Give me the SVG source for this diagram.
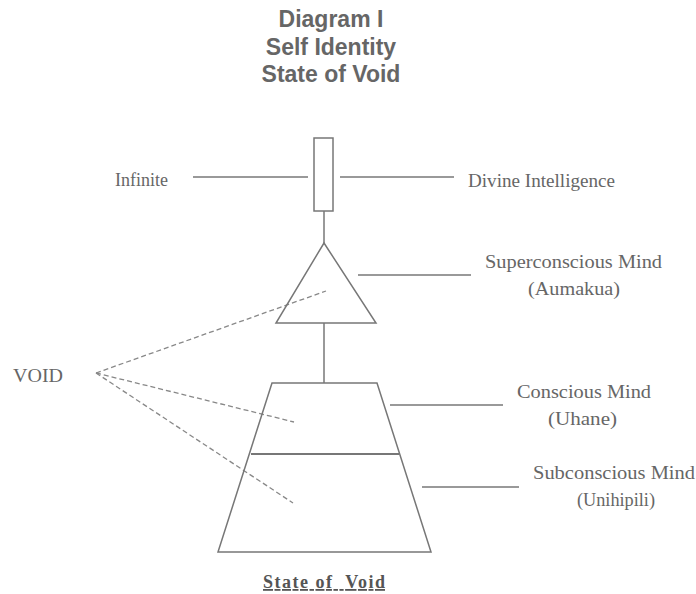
<svg xmlns="http://www.w3.org/2000/svg" width="696" height="594" viewBox="0 0 696 594">
<style>
.title{font-family:"Liberation Sans",Arial,sans-serif;font-weight:bold;font-size:23px;fill:#666;text-anchor:middle}
.lbl{font-family:"Liberation Serif","Times New Roman",serif;font-size:19px;fill:#666}
.shape{fill:none;stroke:#777;stroke-width:1.5}
.line{stroke:#777;stroke-width:1.5;fill:none}
.dash{stroke:#888;stroke-width:1.3;stroke-dasharray:5 3;fill:none}
.foot{font-family:"Liberation Serif","Times New Roman",serif;font-size:18px;font-weight:bold;fill:#555;text-decoration:underline}
</style>
<rect width="696" height="594" fill="#fff"/>
<g id="title">
<text class="title" x="331" y="27">Diagram I</text>
<text class="title" x="331" y="55">Self Identity</text>
<text class="title" x="331" y="82">State of Void</text>
</g>
<g id="connectors">
<line class="line" x1="193" y1="177" x2="308" y2="177"/>
<line class="line" x1="340" y1="177" x2="454" y2="177"/>
<line class="line" x1="324" y1="211" x2="324" y2="243"/>
<line class="line" x1="358" y1="275" x2="471" y2="275"/>
<line class="line" x1="324" y1="323" x2="324" y2="383"/>
<line class="line" x1="390" y1="405" x2="503" y2="405"/>
<line class="line" x1="422" y1="487" x2="519" y2="487"/>
<line class="dash" x1="96" y1="373" x2="326" y2="291"/>
<line class="dash" x1="96" y1="373" x2="294" y2="422"/>
<line class="dash" x1="96" y1="373" x2="293" y2="503"/>
</g>
<g id="infinite-bar">
<rect class="shape" x="314" y="138" width="19" height="73"/>
</g>
<g id="superconscious">
<polygon class="shape" points="324,243 376,323 276,323"/>
</g>
<g id="conscious-subconscious">
<polygon class="shape" points="272,383 377,383 431,552 218,552"/>
<line x1="251" y1="454" x2="399" y2="454" stroke="#777" stroke-width="2.2"/>
</g>
<g id="labels">
<text class="lbl" x="115" y="186" textLength="53" lengthAdjust="spacingAndGlyphs">Infinite</text>
<text class="lbl" x="468" y="187" textLength="147" lengthAdjust="spacingAndGlyphs">Divine Intelligence</text>
<text class="lbl" x="485" y="268" textLength="177" lengthAdjust="spacingAndGlyphs">Superconscious Mind</text>
<text class="lbl" x="528" y="295" textLength="92" lengthAdjust="spacingAndGlyphs">(Aumakua)</text>
<text class="lbl" x="517" y="398" textLength="134" lengthAdjust="spacingAndGlyphs">Conscious Mind</text>
<text class="lbl" x="548" y="425" textLength="69" lengthAdjust="spacingAndGlyphs">(Uhane)</text>
<text class="lbl" x="533" y="479" textLength="162" lengthAdjust="spacingAndGlyphs">Subconscious Mind</text>
<text class="lbl" x="577" y="506" textLength="78" lengthAdjust="spacingAndGlyphs">(Unihipili)</text>
<text class="lbl" x="13" y="382" textLength="50" lengthAdjust="spacingAndGlyphs">VOID</text>
</g>
<g id="footer">
<text class="foot" x="263" y="588" textLength="122" lengthAdjust="spacing" xml:space="preserve">State of  Void</text>
</g>
</svg>
